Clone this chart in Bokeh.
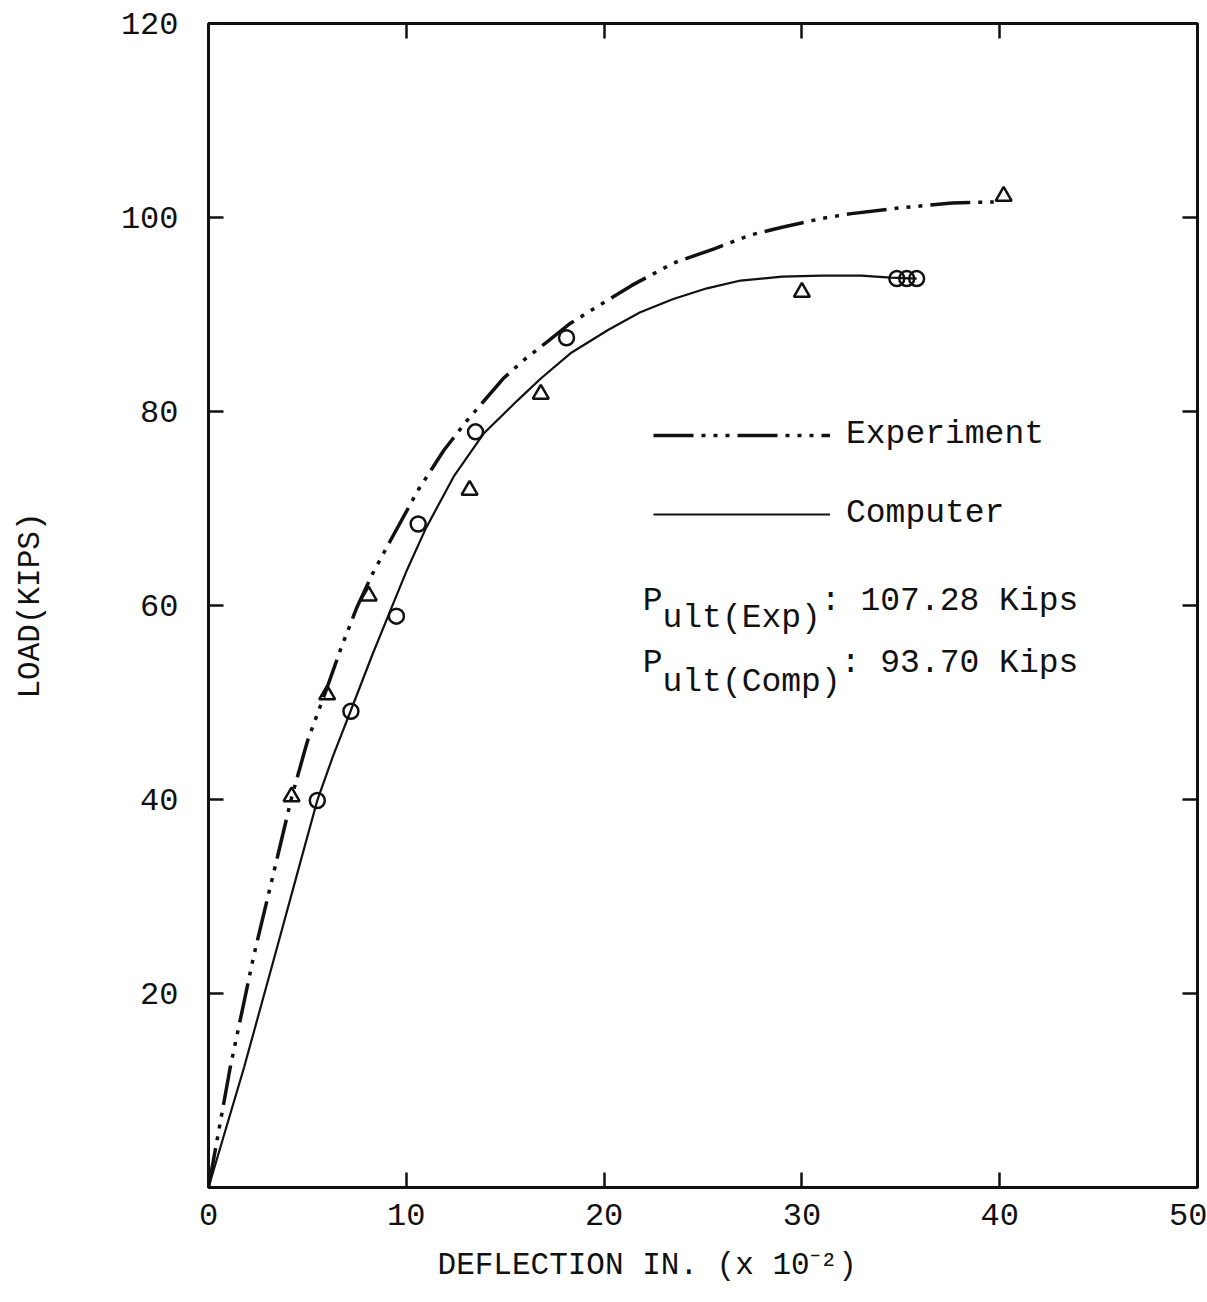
from bokeh.plotting import figure
from bokeh.models import (LinearAxis, FixedTicker, Range1d, Label, Legend, LegendItem,
                          CustomLabelingPolicy)
from bokeh.embed import file_html
from bokeh.resources import INLINE

# ---- data (deflection in 1e-2 in., load in kips) ----
exp_curve_x = [0, 1.1, 2.3, 3.5, 4.2, 5.0, 5.9, 6.7, 7.5, 8.3, 9.2, 10.6, 11.9, 13.0,
               14.9, 16.0, 17.2, 18.3, 19.8, 21.4, 23.5, 25.6, 27.4, 29.0, 31.0, 32.5,
               35.0, 37.6, 39.7]
exp_curve_y = [0, 12.4, 24.0, 34.2, 40.2, 46.0, 51.0, 55.6, 59.8, 63.3, 66.7, 71.9, 76.0, 78.9,
               83.4, 85.4, 87.3, 89.1, 91.0, 93.0, 95.3, 96.8, 98.2, 99.0, 99.9, 100.4,
               101.0, 101.5, 101.6]

comp_curve_x = [0, 1.8, 3.3, 4.8, 5.5, 6.3, 7.2, 8.3, 9.1, 10.0, 11.0, 12.4, 13.9, 15.6,
                16.8, 18.3, 20.2, 21.8, 23.5, 25.2, 26.9, 29.0, 31.0, 33.0, 34.5, 35.8]
comp_curve_y = [0, 12.4, 23.5, 34.7, 39.9, 44.5, 49.2, 55.0, 59.0, 63.5, 68.0, 73.3, 77.7, 81.1,
                83.4, 86.0, 88.4, 90.2, 91.6, 92.7, 93.5, 93.9, 94.0, 94.0, 93.8, 93.7]

circle_x = [5.5, 7.2, 9.5, 10.6, 13.5, 18.1, 34.8, 35.3, 35.8]
circle_y = [39.9, 49.1, 58.9, 68.4, 77.9, 87.6, 93.7, 93.7, 93.7]

tri_x = [4.2, 6.0, 8.1, 13.2, 16.8, 30.0, 40.2]
tri_y = [40.3, 50.8, 61.0, 71.9, 81.8, 92.3, 102.2]

x_ticks = [0, 10, 20, 30, 40, 50]
y_ticks = [20, 40, 60, 80, 100, 120]
x_inner_ticks = [10, 20, 30, 40]
y_inner_ticks = [20, 40, 60, 80, 100]

INK = "#111111"
FONT = "Liberation Mono"

p = figure(width=1207, height=1302,
           x_range=Range1d(0, 50), y_range=Range1d(0, 120),
           x_axis_type=None, y_axis_type=None,
           output_backend="svg", toolbar_location=None,
           min_border_left=208, min_border_right=10,
           min_border_top=23, min_border_bottom=115)
p.grid.visible = False
p.outline_line_color = INK
p.outline_line_width = 3
p.background_fill_color = "white"
p.border_fill_color = "white"

# drops every tick label of an axis (tick marks only)
no_labels = CustomLabelingPolicy(code="""
    for (const i of indices) {
        indices.unset(i)
    }
    return indices
""")


def style_axis(ax, show_labels):
    ax.axis_line_color = None
    ax.major_tick_in = 15
    ax.major_tick_out = 0
    ax.major_tick_line_width = 2.5
    ax.major_tick_line_color = INK
    ax.minor_tick_line_color = None
    ax.major_label_text_font = FONT
    ax.major_label_text_color = INK
    if show_labels:
        ax.major_label_text_font_size = "32px"
    else:
        ax.major_label_text_font_size = "1px"
        ax.major_label_standoff = 0
        ax.major_label_policy = no_labels


bottom = LinearAxis(ticker=FixedTicker(ticks=x_ticks))
style_axis(bottom, True)
bottom.major_label_standoff = 16
# trailing no-break spaces move the centred title left of the frame centre
bottom.axis_label = "DEFLECTION IN. (x 10\u207b\u00b2)" + "\u00a0" * 6
bottom.axis_label_text_font = FONT
bottom.axis_label_text_font_size = "31px"
bottom.axis_label_text_font_style = "normal"
bottom.axis_label_text_color = INK
bottom.axis_label_standoff = 20
p.add_layout(bottom, "below")

left = LinearAxis(ticker=FixedTicker(ticks=y_ticks))
style_axis(left, True)
left.major_label_standoff = 30
left.axis_label = "LOAD(KIPS)"
left.axis_label_text_font = FONT
left.axis_label_text_font_size = "31px"
left.axis_label_text_font_style = "normal"
left.axis_label_text_color = INK
left.axis_label_standoff = 70
p.add_layout(left, "left")

top = LinearAxis(ticker=FixedTicker(ticks=x_inner_ticks))
style_axis(top, False)
p.add_layout(top, "above")

right = LinearAxis(ticker=FixedTicker(ticks=y_inner_ticks))
style_axis(right, False)
p.add_layout(right, "right")

# curves: experiment is dash followed by three dots
exp_line = p.line(exp_curve_x, exp_curve_y, line_color=INK, line_width=3.5,
                  line_dash="40 8 4 8 4 8 4 8")
comp_line = p.line(comp_curve_x, comp_curve_y, line_color=INK, line_width=2.2)

# test points
p.scatter(circle_x, circle_y, marker="circle", size=15, fill_color=None,
          line_color=INK, line_width=2.5)
p.scatter(tri_x, tri_y, marker="triangle", size=16, fill_color=None,
          line_color=INK, line_width=2.5)

# legend
legend = Legend(items=[LegendItem(label="Experiment", renderers=[exp_line]),
                       LegendItem(label="Computer", renderers=[comp_line])],
                location=(445, 655), orientation="vertical")
legend.padding = 0
legend.margin = 0
legend.spacing = 42
legend.glyph_width = 177
legend.glyph_height = 30
legend.label_height = 30
legend.label_standoff = 16
legend.label_text_font = FONT
legend.label_text_font_size = "33px"
legend.label_text_color = INK
legend.label_text_baseline = "alphabetic"
legend.border_line_color = None
legend.background_fill_alpha = 0
p.add_layout(legend, "center")

# ultimate load notes (monospace: one advance = 0.6 em)
note_size = 33
adv = 0.6 * note_size


def note(x, y, text, dx=0, dy=0, size=note_size):
    p.add_layout(Label(x=x, y=y, text=text, x_offset=dx, y_offset=dy,
                       text_font=FONT, text_font_size=f"{size}px",
                       text_color=INK, text_baseline="alphabetic"))


note(21.95, 60.4, "P")
note(21.95, 60.4, "ult(Exp)", dx=adv, dy=-17)
note(21.95, 60.4, ": 107.28 Kips", dx=9 * adv)
note(21.95, 54.0, "P")
note(21.95, 54.0, "ult(Comp)", dx=adv, dy=-19)
note(21.95, 54.0, ": 93.70 Kips", dx=10 * adv)

open("out.html", "w").write(file_html(p, INLINE))
